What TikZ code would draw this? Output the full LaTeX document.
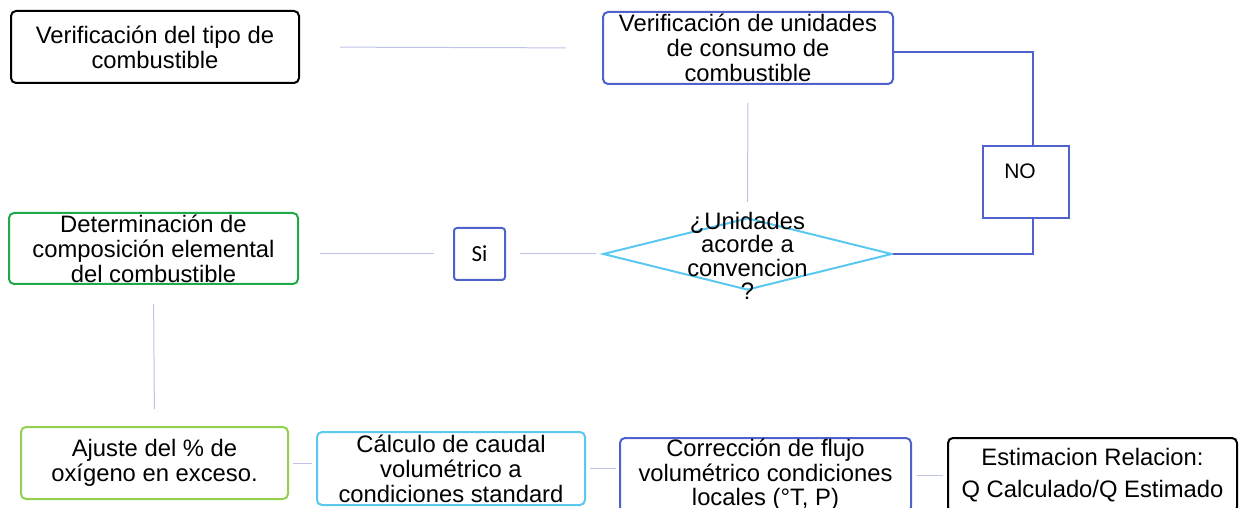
\documentclass[tikz,border=0pt]{standalone}
\usepackage{fontspec}
\setmainfont{Liberation Sans}
\newfontfamily\sifont{Carlito}
\usetikzlibrary{shapes.geometric}
\definecolor{azul}{RGB}{79,98,204}
\definecolor{verde}{RGB}{30,170,70}
\definecolor{verdecl}{RGB}{146,208,80}
\definecolor{celeste}{RGB}{91,200,240}
\definecolor{lila}{RGB}{190,195,232}

\begin{document}
\begin{tikzpicture}[x=0.5pt,y=-0.5pt,
  caja/.style={draw,line width=1pt,rounded corners=2.5pt,align=center,inner sep=0pt,
    font=\fontsize{11.9}{12.5}\selectfont},
  enlace/.style={draw=lila,line width=0.5pt},
  rama/.style={draw=azul,line width=1pt}]
\useasboundingbox (0,0) rectangle (1239,508);

% fila superior
\node[caja,minimum width=144pt,minimum height=36pt] (tipo) at (155,47) {Verificación del tipo de\\combustible};
\node[caja,draw=azul,minimum width=145pt,minimum height=36pt] (unid) at (748,48) {Verificación de unidades\\de consumo de\\combustible};
\node[draw=azul,line width=1pt,minimum width=43pt,minimum height=36pt,inner sep=0pt,
  label={[font=\fontsize{10.5}{12}\selectfont,xshift=-3pt,yshift=5.5pt]center:NO}] (no) at (1026,182) {};

% fila central
\node[caja,draw=verde,minimum width=144.5pt,minimum height=35.5pt] (deter) at (153.5,248.5) {Determinación de\\composición elemental\\del combustible};
\node[draw=azul,line width=1pt,rounded corners=1.5pt,minimum width=25.5pt,minimum height=26pt,inner sep=0pt,
  font=\sifont\fontsize{11.5}{13}\selectfont] (si) at (479.5,254) {Si};
\node[diamond,draw=celeste,line width=1pt,minimum width=144.5pt,minimum height=36pt,inner sep=0pt,
  label={[font=\fontsize{11.9}{11.75}\selectfont,align=center,yshift=-1pt]center:¿Unidades\\acorde a\\convencion\\?}] (decis) at (747.5,254) {};

% fila inferior
\node[caja,draw=verdecl,minimum width=133.5pt,minimum height=36pt] (ajuste) at (154.5,463) {Ajuste del \% de\\oxígeno en exceso.};
\node[caja,draw=celeste,minimum width=134pt,minimum height=36.5pt] (caudal) at (451,468.5) {Cálculo de caudal\\volumétrico a\\condiciones standard};
\node[caja,draw=azul,minimum width=145.5pt,minimum height=37pt] (correc) at (765.5,475) {\raisebox{1pt}{Corrección de flujo}\\\raisebox{1pt}{volumétrico condiciones}\\\raisebox{1.5pt}{locales (°T, P)}};
\node[caja,minimum width=144.5pt,minimum height=37pt,font=\fontsize{11.9}{16}\selectfont] (estim) at (1092.5,475) {\raisebox{-2pt}{Estimacion Relacion:}\\\raisebox{-2pt}{Q Calculado/Q Estimado}};

% conectores
\draw[enlace,shorten <=20pt,shorten >=18pt] (tipo.east) -- (unid.west);
\draw[enlace,shorten <=9pt,shorten >=7.5pt] (unid.south) -- (decis.north);
\draw[rama] ([yshift=-2pt]unid.east) -| ([xshift=3.5pt]no.north);
\draw[rama] ([xshift=3.5pt]no.south) |- (decis.east);
\draw[enlace,shorten <=3pt,shorten >=7pt] (decis.west) -- (si.east);
\draw[enlace,shorten <=9.5pt,shorten >=10.5pt] (si.west) -- (si.west -| deter.east);
\draw[enlace,shorten <=9.5pt,shorten >=8.5pt] (deter.south) -- (ajuste.north);
\draw[enlace,shorten <=2pt,shorten >=2pt] (ajuste.east) -- (ajuste.east -| caudal.west);
\draw[enlace,shorten <=2pt,shorten >=1.5pt] (caudal.east) -- (caudal.east -| correc.west);
\draw[enlace,shorten <=2.5pt,shorten >=2pt] (correc.east) -- (estim.west);
\end{tikzpicture}
\end{document}
